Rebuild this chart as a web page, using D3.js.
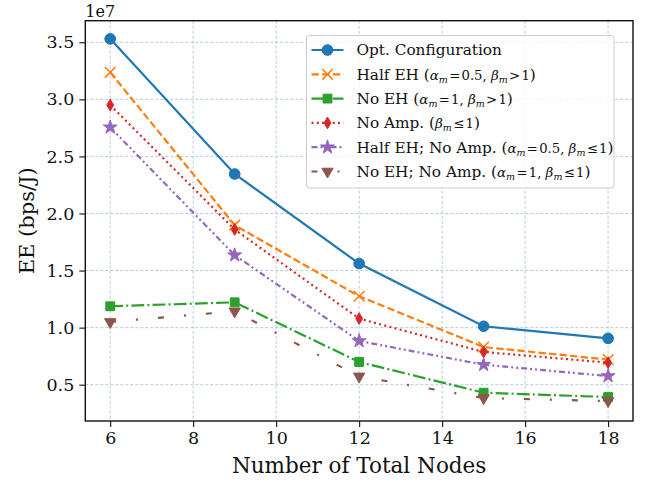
<!DOCTYPE html>
<html>
<head>
<meta charset="utf-8">
<script src="https://cdn.jsdelivr.net/npm/d3@7"></script>
<style>
  body { margin: 0; background: #fff; }
  svg { font-family: "DejaVu Serif", serif; }
</style>
</head>
<body>
<script>
// values in units of 1e7 bps/J
let nodes = [6, 9, 12, 15, 18];
let optConfig = [3.53, 2.346, 1.561, 1.012, 0.906];
let halfEH = [3.237, 1.898, 1.275, 0.83, 0.72];
let noEH = [1.187, 1.222, 0.699, 0.43, 0.392];
let noAmp = [2.95, 1.86, 1.079, 0.787, 0.693];
let halfEHNoAmp = [2.755, 1.635, 0.883, 0.675, 0.576];
let noEHNoAmp = [1.05, 1.143, 0.573, 0.383, 0.357];
let xTicks = [6, 8, 10, 12, 14, 16, 18];
let yTicks = [0.5, 1.0, 1.5, 2.0, 2.5, 3.0, 3.5];

let margin = { top: 20.7, right: 14, bottom: 62, left: 85.3 },
  width = 647 - margin.left - margin.right,
  height = 483 - margin.top - margin.bottom;

let hs = "\u200A";
let series = [
  { values: optConfig, color: "#1f77b4", dash: null, marker: "circle",
    label: [["Opt. Configuration", "n"]] },
  { values: halfEH, color: "#ff7f0e", dash: "7.4,3.2", marker: "times",
    label: [["Half EH (", "n"], ["α", "i"], ["m", "s"], [hs + "=" + hs + "0.5, ", "o"], ["β", "i"], ["m", "s"], [hs + ">" + hs + "1", "o"], [")", "n"]] },
  { values: noEH, color: "#2ca02c", dash: "12.8,3.2,2,3.2", marker: "square",
    label: [["No EH (", "n"], ["α", "i"], ["m", "s"], [hs + "=" + hs + "1, ", "o"], ["β", "i"], ["m", "s"], [hs + ">" + hs + "1", "o"], [")", "n"]] },
  { values: noAmp, color: "#d62728", dash: "2,3.3", marker: "diamond",
    label: [["No Amp. (", "n"], ["β", "i"], ["m", "s"], [hs + "≤" + hs + "1", "o"], [")", "n"]] },
  { values: halfEHNoAmp, color: "#9467bd", dash: "6,3,2,3,2,3", marker: "star",
    label: [["Half EH; No Amp. (", "n"], ["α", "i"], ["m", "s"], [hs + "=" + hs + "0.5, ", "o"], ["β", "i"], ["m", "s"], [hs + "≤" + hs + "1", "o"], [")", "n"]] },
  { values: noEHNoAmp, color: "#8c564b", dash: "6,20,2,20", marker: "triangle",
    label: [["No EH; No Amp. (", "n"], ["α", "i"], ["m", "s"], [hs + "=" + hs + "1, ", "o"], ["β", "i"], ["m", "s"], [hs + "≤" + hs + "1", "o"], [")", "n"]] }
];

let svg = d3.select("body").append("svg")
  .attr("width", 647)
  .attr("height", 483)
  .append("g")
  .attr("transform", "translate(" + margin.left + "," + margin.top + ")");

let x = d3.scaleLinear().domain([5.4, 18.6]).range([0, width]);
let y = d3.scaleLinear().domain([0.182, 3.689]).range([height, 0]);

// grid
svg.append("g").selectAll("line").data(xTicks).join("line")
  .attr("x1", d => x(d)).attr("x2", d => x(d))
  .attr("y1", 0).attr("y2", height)
  .attr("stroke", "#a3bfd6").attr("stroke-width", 0.8).attr("stroke-dasharray", "3,2");
svg.append("g").selectAll("line").data(yTicks).join("line")
  .attr("y1", d => y(d)).attr("y2", d => y(d))
  .attr("x1", 0).attr("x2", width)
  .attr("stroke", "#a3bfd6").attr("stroke-width", 0.8).attr("stroke-dasharray", "3,2");

// axes
let xAxis = svg.append("g")
  .attr("transform", "translate(0," + height + ")")
  .call(d3.axisBottom(x).tickValues(xTicks).tickSize(6).tickPadding(5).tickFormat(d3.format("d")));
let yAxis = svg.append("g")
  .call(d3.axisLeft(y).tickValues(yTicks).tickSize(6).tickPadding(5).tickFormat(d3.format(".1f")));
[xAxis, yAxis].forEach(a => {
  a.select(".domain").remove();
  a.selectAll("text").attr("font-family", "DejaVu Serif").attr("font-size", 17.5).attr("fill", "#111");
  a.selectAll("line").attr("stroke", "#111").attr("stroke-width", 1.1);
});

svg.append("rect")
  .attr("width", width).attr("height", height)
  .attr("fill", "none").attr("stroke", "#111").attr("stroke-width", 1.4);

svg.append("text")
  .attr("x", 0).attr("y", -4)
  .attr("font-size", 16).attr("fill", "#111")
  .text("1e7");

svg.append("text")
  .attr("x", width / 2).attr("y", height + 52)
  .attr("text-anchor", "middle")
  .attr("font-size", 21.5).attr("fill", "#111")
  .text("Number of Total Nodes");

svg.append("text")
  .attr("transform", "translate(" + (27 - margin.left) + "," + height / 2 + ") rotate(-90)")
  .attr("text-anchor", "middle")
  .attr("dy", "0.35em")
  .attr("font-size", 21).attr("fill", "#111")
  .text("EE (bps/J)");

function drawMarker(g, type, color) {
  if (type === "circle") {
    g.append("path").attr("d", d3.symbol(d3.symbolCircle, 90)())
      .attr("fill", color).attr("stroke", color);
  } else if (type === "times") {
    g.append("path").attr("d", d3.symbol(d3.symbolTimes, 75)())
      .attr("fill", "none").attr("stroke", color).attr("stroke-width", 1.6);
  } else if (type === "square") {
    g.append("path").attr("d", d3.symbol(d3.symbolSquare, 78)())
      .attr("fill", color).attr("stroke", color);
  } else if (type === "diamond") {
    g.append("path").attr("d", d3.symbol(d3.symbolDiamond, 40)())
      .attr("fill", color).attr("stroke", color);
  } else if (type === "star") {
    g.append("path").attr("d", d3.symbol(d3.symbolStar, 60)())
      .attr("fill", color).attr("stroke", color);
  } else if (type === "triangle") {
    g.append("path").attr("d", d3.symbol(d3.symbolTriangle, 55)())
      .attr("transform", "rotate(180)")
      .attr("fill", color).attr("stroke", color);
  }
}

let line = d3.line().x((d, i) => x(nodes[i])).y(d => y(d));

series.forEach(s => {
  svg.append("path")
    .datum(s.values)
    .attr("fill", "none")
    .attr("stroke", s.color)
    .attr("stroke-width", 2.2)
    .attr("stroke-dasharray", s.dash)
    .attr("d", line);
  s.values.forEach((v, i) => {
    let g = svg.append("g").attr("transform", "translate(" + x(nodes[i]) + "," + y(v) + ")");
    drawMarker(g, s.marker, s.color);
  });
});

// legend
let legend = svg.append("g").attr("transform", "translate(" + (306.5 - margin.left) + "," + (35.5 - margin.top) + ")");
legend.append("rect")
  .attr("width", 307.5).attr("height", 152.5)
  .attr("rx", 3)
  .attr("fill", "#fff").attr("fill-opacity", 0.8)
  .attr("stroke", "#cccccc").attr("stroke-width", 1);

series.forEach((s, i) => {
  let ry = 14.5 + i * 24.3;
  legend.append("line")
    .attr("x1", 5).attr("x2", 37).attr("y1", ry).attr("y2", ry)
    .attr("stroke", s.color).attr("stroke-width", 2.2)
    .attr("stroke-dasharray", s.dash);
  drawMarker(legend.append("g").attr("transform", "translate(21," + ry + ")"), s.marker, s.color);
  let t = legend.append("text")
    .attr("x", 50).attr("y", ry).attr("dy", "0.35em")
    .attr("font-size", 15.3).attr("fill", "#111");
  s.label.forEach(seg => {
    let ts = t.append("tspan").text(seg[0]);
    if (seg[1] === "i") ts.attr("font-style", "italic").attr("font-size", 13.5);
    if (seg[1] === "s") ts.attr("font-style", "italic").attr("font-size", 9.5).attr("baseline-shift", "-25%");
    if (seg[1] === "o") ts.attr("font-size", 13.2);
  });
});
</script>
</body>
</html>
